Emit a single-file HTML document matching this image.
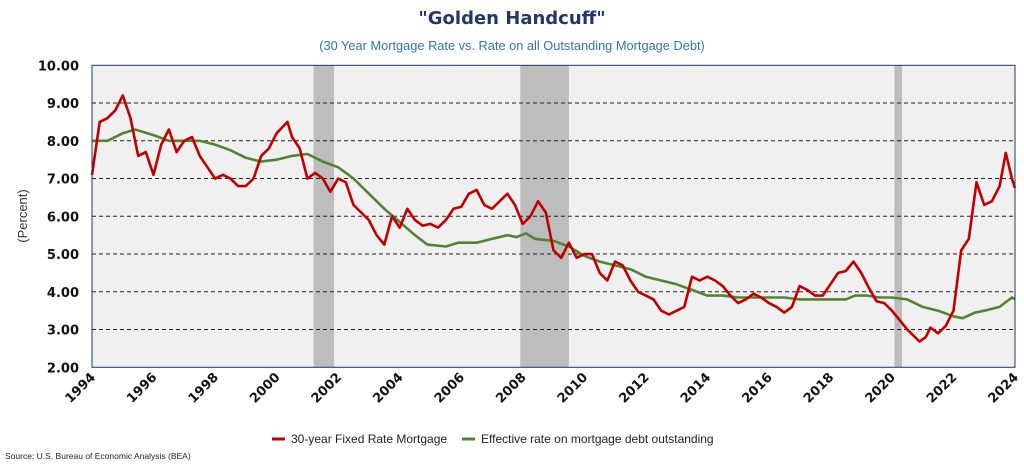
<!DOCTYPE html>
<html><head><meta charset="utf-8">
<style>
body{margin:0;background:#fff;width:1024px;height:465px;overflow:hidden;font-family:"Liberation Sans",sans-serif}
</style></head>
<body>
<svg id="chart" width="1024" height="465" xmlns="http://www.w3.org/2000/svg" font-family="Liberation Sans, sans-serif">
<text x="512" y="24" text-anchor="middle" font-size="18" font-weight="bold" fill="#1f3864" font-family="DejaVu Sans, sans-serif">"Golden Handcuff"</text>
<text x="512" y="50" text-anchor="middle" font-size="12.8" fill="#2e74b5">(30 Year Mortgage Rate vs. Rate on all Outstanding Mortgage Debt)</text>
<text transform="translate(27,216) rotate(-90)" text-anchor="middle" font-size="13" fill="#333">(Percent)</text>
<g id="plot"></g>
<g>
<line x1="272" y1="439" x2="285" y2="439" stroke="#c00000" stroke-width="3"/>
<text x="291" y="443" font-size="12" fill="#222">30-year Fixed Rate Mortgage</text>
<line x1="462" y1="439" x2="475" y2="439" stroke="#548235" stroke-width="3"/>
<text x="481" y="443" font-size="12" fill="#222">Effective rate on mortgage debt outstanding</text>
</g>
<text x="5" y="459" font-size="8.5" fill="#222">Source: U.S. Bureau of Economic Analysis (BEA)</text>
</svg>
<script>
const yTicks=[2,3,4,5,6,7,8,9,10];
const xTicks=[1994,1996,1998,2000,2002,2004,2006,2008,2010,2012,2014,2016,2018,2020,2022,2024];
const recessions=[[2001.2,2001.87],[2007.92,2009.5],[2020.08,2020.33]];
const redX=[1994,1994.25,1994.5,1994.75,1995,1995.25,1995.5,1995.75,1996,1996.25,1996.5,1996.75,1997,1997.25,1997.5,1997.75,1998,1998.25,1998.5,1998.75,1999,1999.25,1999.5,1999.75,2000,2000.35,2000.5,2000.75,2001,2001.25,2001.5,2001.75,2002,2002.25,2002.5,2002.75,2003,2003.25,2003.5,2003.75,2004,2004.25,2004.5,2004.75,2005,2005.25,2005.5,2005.75,2006,2006.25,2006.5,2006.75,2007,2007.25,2007.5,2007.75,2008,2008.25,2008.5,2008.75,2009,2009.25,2009.5,2009.75,2010,2010.25,2010.5,2010.75,2011,2011.25,2011.5,2011.75,2012,2012.25,2012.5,2012.75,2013,2013.25,2013.5,2013.75,2014,2014.25,2014.5,2014.75,2015,2015.25,2015.5,2015.75,2016,2016.25,2016.5,2016.75,2017,2017.25,2017.5,2017.75,2018,2018.25,2018.5,2018.75,2019,2019.25,2019.5,2019.75,2020,2020.25,2020.5,2020.9,2021.1,2021.25,2021.5,2021.75,2022,2022.25,2022.5,2022.75,2023,2023.25,2023.5,2023.7,2023.9,2024];
const redY=[7.1,8.5,8.6,8.8,9.2,8.6,7.6,7.7,7.1,7.9,8.3,7.7,8.0,8.1,7.6,7.3,7.0,7.1,7.0,6.8,6.8,7.0,7.6,7.8,8.2,8.5,8.1,7.8,7.0,7.15,7.0,6.65,7.0,6.9,6.3,6.1,5.9,5.5,5.25,6.0,5.7,6.2,5.9,5.75,5.8,5.7,5.9,6.2,6.25,6.6,6.7,6.3,6.2,6.4,6.6,6.3,5.8,6.0,6.4,6.1,5.1,4.9,5.3,4.9,5.0,5.0,4.5,4.3,4.8,4.7,4.3,4.0,3.9,3.8,3.5,3.4,3.5,3.6,4.4,4.3,4.4,4.3,4.15,3.9,3.7,3.8,3.95,3.85,3.7,3.6,3.45,3.6,4.15,4.05,3.9,3.9,4.2,4.5,4.55,4.8,4.5,4.1,3.75,3.7,3.5,3.25,3.0,2.68,2.8,3.05,2.9,3.1,3.5,5.1,5.4,6.9,6.3,6.4,6.8,7.68,7.0,6.75];
const greenX=[1994,1994.5,1995,1995.4,1996,1996.5,1997,1997.5,1998,1998.5,1999,1999.5,2000,2000.5,2001,2001.5,2002,2002.5,2003,2003.5,2004,2004.5,2004.9,2005.5,2005.9,2006.5,2007,2007.5,2007.8,2008.1,2008.4,2009,2009.5,2010,2010.5,2011,2011.5,2012,2012.5,2013,2013.5,2014,2014.5,2015,2015.5,2016,2016.5,2017,2017.5,2018,2018.5,2018.8,2019.2,2019.6,2020,2020.5,2021,2021.5,2022,2022.3,2022.7,2023,2023.5,2023.9,2024];
const greenY=[8.0,8.0,8.2,8.3,8.15,8.0,8.0,8.0,7.9,7.75,7.55,7.45,7.5,7.6,7.65,7.45,7.3,7.0,6.6,6.2,5.85,5.5,5.25,5.2,5.3,5.3,5.4,5.5,5.45,5.55,5.4,5.35,5.2,4.95,4.8,4.7,4.6,4.4,4.3,4.2,4.05,3.9,3.9,3.85,3.85,3.85,3.85,3.8,3.8,3.8,3.8,3.9,3.9,3.85,3.85,3.8,3.6,3.5,3.35,3.3,3.45,3.5,3.6,3.85,3.8];

const NS="http://www.w3.org/2000/svg";
const L=92,R=1015,T=65.3,B=367.3,x0=1994,x1=2024,y0=2,y1=10;
const sx=v=>L+(v-x0)/(x1-x0)*(R-L);
const sy=v=>B-(v-y0)/(y1-y0)*(B-T);
const plot=document.getElementById('plot');
function mk(tag,attrs,parent){const e=document.createElementNS(NS,tag);for(const k in attrs)e.setAttribute(k,attrs[k]);(parent||plot).appendChild(e);return e;}
const bg=mk('rect',{x:L,y:T,width:R-L,height:B-T,fill:'#f0f0f0'});


recessions.forEach(r=>{
  const e=mk('rect',{x:sx(r[0]),y:T,width:sx(r[1])-sx(r[0]),height:B-T,fill:'#bdbdbd'});
  
  
});
yTicks.forEach(v=>{
  if(v>y0&&v<y1){
    const g=mk('line',{x1:L,x2:R,y1:sy(v),y2:sy(v),stroke:'#222','stroke-width':1,'stroke-dasharray':'4,3'});
    
    
  }
  const t=mk('text',{x:79,y:sy(v)+5,'text-anchor':'end','font-size':13,'font-weight':'bold',fill:'#111','font-family':'DejaVu Sans, sans-serif'});
  t.textContent=v.toFixed(2);
  
  
});
xTicks.forEach(v=>{
  const t=mk('text',{'text-anchor':'end','font-size':13,'font-weight':'bold',fill:'#111','font-family':'DejaVu Sans, sans-serif',transform:`translate(${sx(v)+4},378) rotate(-45)`});
  t.textContent=v;
  
  
});
function line(xs,ys,color,name){
  const d=xs.map((x,i)=>(i?'L':'M')+sx(x).toFixed(1)+','+sy(ys[i]).toFixed(1)).join('');
  const p=mk('path',{d:d,fill:'none',stroke:color,'stroke-width':2.6,'stroke-linejoin':'round'});
  
  
}
line(greenX,greenY,'#548235','effective-rate-line');
line(redX,redY,'#c00000','mortgage-30yr-line');
const br=mk('rect',{x:L,y:T,width:R-L,height:B-T,fill:'none',stroke:'#1f3864','stroke-width':1});


</script>
</body></html>
